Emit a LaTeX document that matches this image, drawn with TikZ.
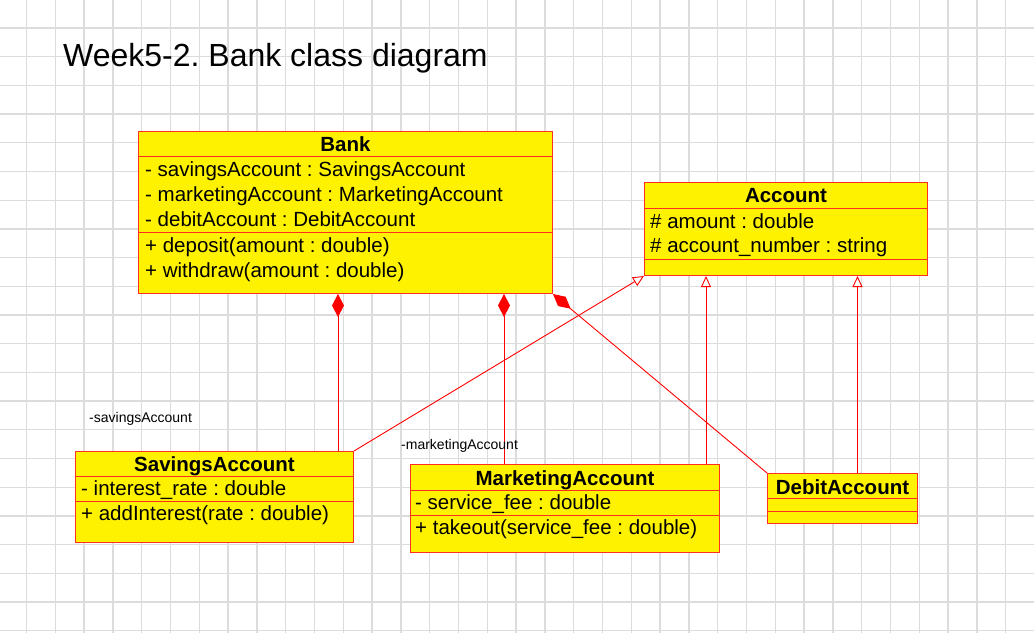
\documentclass[tikz,border=0pt]{standalone}
\usepackage{fontspec}
\setmainfont{Liberation Sans}
\usepackage{xcolor}
\usetikzlibrary{calc}
\usetikzlibrary{arrows.meta}
\frenchspacing

\definecolor{boxline}{RGB}{255,48,32}
\definecolor{gridline}{RGB}{220,220,220}

\begin{document}
\begin{tikzpicture}
    [x=1pt, y=-1pt,
     classbox/.style={rectangle, draw=boxline, fill=yellow, line width=1pt, inner sep=0pt, anchor=north west},
     member/.style={anchor=base west, inner sep=0pt, font=\fontsize{20.5}{24}\selectfont},
     classname/.style={anchor=base, inner sep=0pt, font=\fontsize{20.5}{24}\selectfont\bfseries},
     rolename/.style={anchor=base west, inner sep=0pt, font=\fontsize{14}{16}\selectfont},
     compose/.style={draw=red, line width=0.9pt, {Diamond[length=23pt, width=12pt]}-},
     inherit/.style={draw=red, line width=0.9pt, -{Triangle[length=11pt, width=10pt, fill=white]}}]
    \useasboundingbox (0,0) rectangle (1034,633);
    \fill[white] (0,0) rectangle (1034,633);
    % grid
    \foreach \i in {0,...,35}{
        \draw[gridline, line width=1.3pt] ({26.5+28.8*\i},0) -- ++(0,633);
    }
    \foreach \j in {0,...,21}{
        \draw[gridline, line width=1.3pt] (0,{28+28.7*\j}) -- ++(1034,0);
    }
    \node(title)[anchor=base west, inner sep=0pt, font=\fontsize{32}{38}\selectfont] at (63,66) {Week5-2. Bank class diagram};
    % classes
    \node(bank)[classbox, minimum width=414pt, minimum height=162pt] at (138,131) {};
    \node(account)[classbox, minimum width=283pt, minimum height=93pt] at (644,182) {};
    \node(savings)[classbox, minimum width=278pt, minimum height=91pt] at (75,451) {};
    \node(mkt)[classbox, minimum width=309pt, minimum height=88pt] at (410,464) {};
    \node(debit)[classbox, minimum width=150pt, minimum height=50pt] at (767,473) {};
    \foreach \c/\y in {bank/156,bank/232,account/208,account/259,savings/476,savings/501,mkt/490,mkt/515,debit/498,debit/511}{
        \draw[boxline, line width=1pt] (\c.west |- 0,\y) -- (\c.east |- 0,\y);
    }
    \foreach \c/\y/\t [count=\n] in {bank/151/Bank,account/202/Account,savings/471/SavingsAccount,mkt/485/MarketingAccount,debit/494/DebitAccount}{
        \node(name\n)[classname] at (\c.north |- 0,\y) {\t};
    }
    \foreach \x/\y/\t [count=\n] in {145/176/{- savingsAccount : SavingsAccount},145/201/{- marketingAccount : MarketingAccount},145/226/{- debitAccount : DebitAccount},145/252/{+ deposit(amount : double)},145/277/{+ withdraw(amount : double)},650/228/{\# amount : double},650/252/{\# account\_number : string},81/495/{- interest\_rate : double},81/520/{+ addInterest(rate : double)},415/509/{- service\_fee : double},415/534/{+ takeout(service\_fee : double)}}{
        \node(m\n)[member] at (\x,\y) {\t};
    }
    % connectors
    \coordinate (sv) at ([xshift=-16pt]savings.north east);
    \coordinate (mk) at ([xshift=94pt]mkt.north west);
    \coordinate (mk2) at ([xshift=-14pt]mkt.north east);
    \coordinate (db) at ([xshift=15pt]debit.north);
    \draw[compose] (sv |- bank.south) -- (sv);
    \draw[compose] (mk |- bank.south) -- (mk);
    \draw[compose] (bank.south east) -- (debit.north west);
    \draw[inherit] (savings.north east) -- (account.south west);
    \draw[inherit] (mk2) -- (mk2 |- account.south);
    \draw[inherit] (db) -- (db |- account.south);
    \node(savingsrole)[rolename] at (89,422) {-savingsAccount};
    \node(marketingrole)[rolename] at (401,449) {-marketingAccount};
\end{tikzpicture}
\end{document}
